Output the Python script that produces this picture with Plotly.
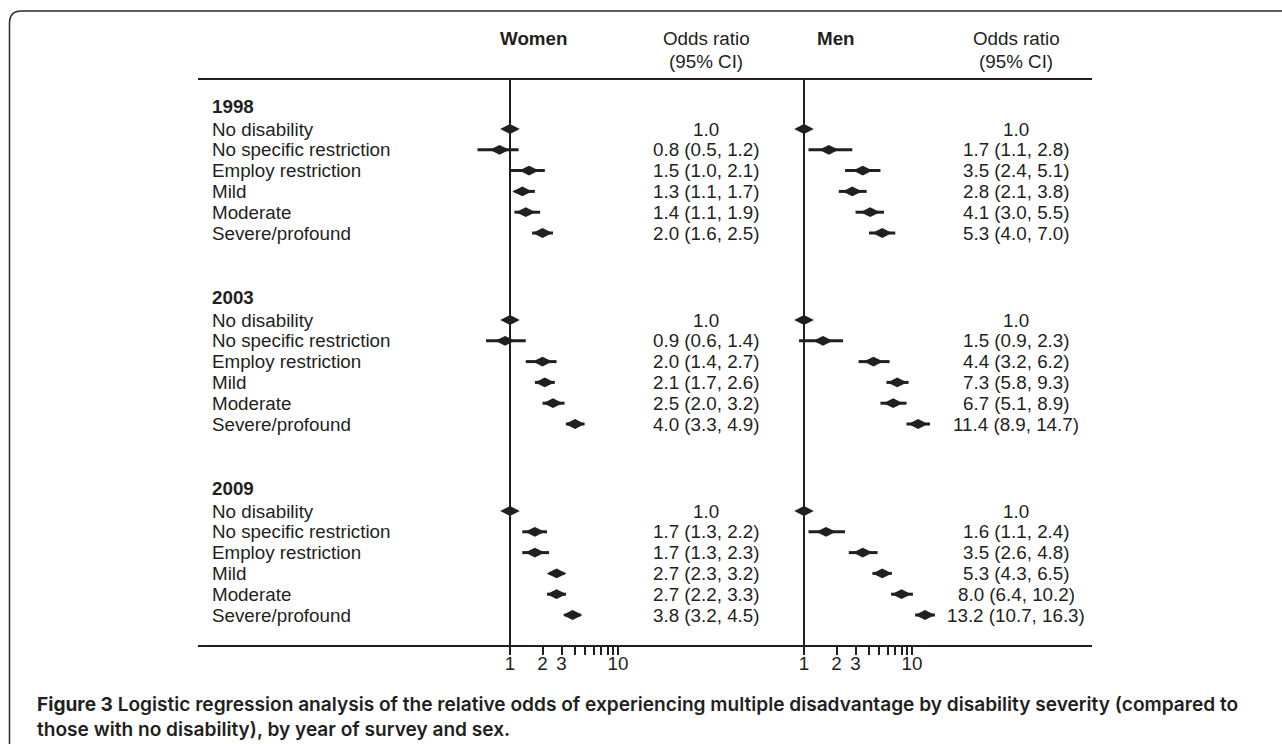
import plotly.graph_objects as go

# ---------------- data ----------------
years = ["1998", "2003", "2009"]
categories = ["No disability", "No specific restriction", "Employ restriction",
              "Mild", "Moderate", "Severe/profound"]

women_or = [1.0, 0.8, 1.5, 1.3, 1.4, 2.0,
            1.0, 0.9, 2.0, 2.1, 2.5, 4.0,
            1.0, 1.7, 1.7, 2.7, 2.7, 3.8]
women_lo = [None, 0.5, 1.0, 1.1, 1.1, 1.6,
            None, 0.6, 1.4, 1.7, 2.0, 3.3,
            None, 1.3, 1.3, 2.3, 2.2, 3.2]
women_hi = [None, 1.2, 2.1, 1.7, 1.9, 2.5,
            None, 1.4, 2.7, 2.6, 3.2, 4.9,
            None, 2.2, 2.3, 3.2, 3.3, 4.5]

men_or = [1.0, 1.7, 3.5, 2.8, 4.1, 5.3,
          1.0, 1.5, 4.4, 7.3, 6.7, 11.4,
          1.0, 1.6, 3.5, 5.3, 8.0, 13.2]
men_lo = [None, 1.1, 2.4, 2.1, 3.0, 4.0,
          None, 0.9, 3.2, 5.8, 5.1, 8.9,
          None, 1.1, 2.6, 4.3, 6.4, 10.7]
men_hi = [None, 2.8, 5.1, 3.8, 5.5, 7.0,
          None, 2.3, 6.2, 9.3, 8.9, 14.7,
          None, 2.4, 4.8, 6.5, 10.2, 16.3]

tick_vals = [1, 2, 3, 4, 5, 6, 7, 8, 9, 10]
tick_text = ["1", "2", "3", "", "", "", "", "", "", "10"]

caption_1 = ("<b>Figure 3</b> Logistic regression analysis of the relative odds of "
             "experiencing multiple disadvantage by disability severity (compared to")
caption_2 = "those with no disability), by year of survey and sex."

# ---------------- layout constants (pixels) ----------------
W, H = 1282, 744
INK = "#231f20"
FONT = "Liberation Sans, Arial, sans-serif"
FS = 18.8
DECADE = 108.0            # pixels per decade on the log axes
ONE_W, ONE_M = 510.0, 804.0   # x pixel of OR=1 for women / men
AX_L, AX_R = 198.0, 1092.0    # horizontal rule extent
RULE_Y, BASE_Y = 79.0, 646.0
ROW0, ROW_STEP, GROUP_STEP, HEAD_OFF = 129.0, 20.8, 191.0, 23.0


def px(x):
    return x / W


def py(y):
    return 1 - y / H


def row_y(i):
    g, r = divmod(i, len(categories))
    return ROW0 + g * GROUP_STEP + r * ROW_STEP


def log_range(one):
    return [(AX_L - one) / DECADE, (AX_R - one) / DECADE]


def fmt(o, lo, hi):
    if lo is None:
        return f"{o:.1f}"
    return f"{o:.1f} ({lo:.1f}, {hi:.1f})"


ys = [row_y(i) for i in range(len(women_or))]

fig = go.Figure()


def add_panel(orv, lo, hi, xa):
    plus = [0 if h is None else h - o for o, h in zip(orv, hi)]
    minus = [0 if l is None else o - l for o, l in zip(orv, lo)]
    # vertical reference line at OR = 1
    fig.add_trace(go.Scatter(x=[1, 1], y=[RULE_Y, BASE_Y], mode="lines",
                             line=dict(color=INK, width=2), xaxis=xa, yaxis="y",
                             hoverinfo="skip", showlegend=False))
    fig.add_trace(go.Scatter(
        x=orv, y=ys, mode="markers", xaxis=xa, yaxis="y",
        marker=dict(symbol="diamond-wide", size=14, color=INK, line=dict(width=0)),
        error_x=dict(type="data", symmetric=False, array=plus, arrayminus=minus,
                     width=0, thickness=3, color=INK),
        showlegend=False, cliponaxis=False))


add_panel(women_or, women_lo, women_hi, "x")
add_panel(men_or, men_lo, men_hi, "x2")

ann = []


def txt(x, y, s, anchor="left", bold=False, size=FS, font=FONT, color=INK):
    ann.append(dict(x=px(x), y=y, xref="paper", yref="y", text=(f"<b>{s}</b>" if bold else s),
                    showarrow=False, xanchor=anchor, yanchor="middle",
                    font=dict(family=font, size=size, color=color)))


# headers
txt(533, 38, "Women", "center", bold=True)
txt(706, 38, "Odds ratio", "center")
txt(706, 61, "(95% CI)", "center")
txt(836, 38, "Men", "center", bold=True)
txt(1016, 38, "Odds ratio", "center")
txt(1016, 61, "(95% CI)", "center")

# row labels and OR text
for g, yr in enumerate(years):
    txt(210, ROW0 + g * GROUP_STEP - HEAD_OFF, yr, bold=True)
for i in range(len(women_or)):
    r = i % len(categories)
    txt(210, ys[i], categories[r])
    txt(706, ys[i], fmt(women_or[i], women_lo[i], women_hi[i]), "center")
    txt(1016, ys[i], fmt(men_or[i], men_lo[i], men_hi[i]), "center")

# caption (one two-line text block)
ann.append(dict(x=px(35), y=py(716), xref="paper", yref="paper",
                text=caption_1 + "<br>" + caption_2, showarrow=False,
                xanchor="left", yanchor="middle", align="left",
                font=dict(family="Inter, Open Sans, sans-serif", size=19.1,
                          color=INK, weight=600)))

shapes = [
    # header rule
    dict(type="line", xref="paper", yref="y", x0=px(AX_L), x1=px(AX_R),
         y0=RULE_Y, y1=RULE_Y, line=dict(color=INK, width=2)),
    # outer frame with rounded corner
    dict(type="path", xref="paper", yref="paper",
         path=(f"M {px(9.5)},{py(760)} L {px(9.5)},{py(23)} "
               f"Q {px(9.5)},{py(11)} {px(21.5)},{py(11)} L {px(1300)},{py(11)}"),
         line=dict(color="#2a2a2a", width=1.5)),
]

axis_common = dict(type="log", domain=[px(AX_L), px(AX_R)], anchor="free",
                   position=py(BASE_Y), tickmode="array", tickvals=tick_vals,
                   ticktext=tick_text, ticks="outside", ticklen=8, tickwidth=2,
                   tickcolor=INK, showgrid=False, zeroline=False,
                   ticklabelstandoff=-8,
                   tickfont=dict(family=FONT, size=FS, color=INK),
                   fixedrange=True)

fig.update_layout(
    width=W, height=H, margin=dict(l=0, r=0, t=0, b=0, pad=0),
    paper_bgcolor="white", plot_bgcolor="white",
    xaxis=dict(**axis_common, range=log_range(ONE_W), showline=True,
               linecolor=INK, linewidth=2),
    xaxis2=dict(**axis_common, range=log_range(ONE_M), overlaying="x",
                showline=True, linecolor=INK, linewidth=2),
    yaxis=dict(range=[H, 0], domain=[0, 1], visible=False, fixedrange=True),
    annotations=ann, shapes=shapes, showlegend=False,
)

fig.write_html("out.html", config={"displayModeBar": False},
               post_script="document.body.style.margin='0px';")
